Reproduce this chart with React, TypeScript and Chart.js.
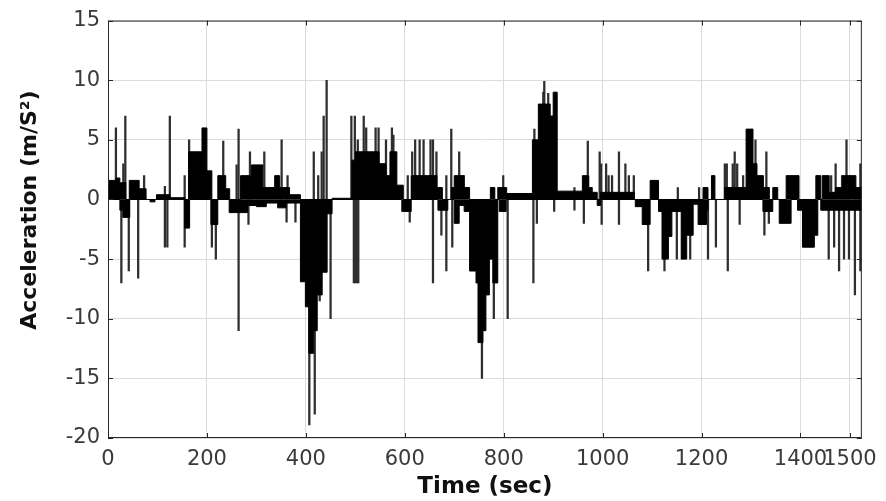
import { useEffect, useRef } from "react";
import { Chart, registerables } from "chart.js";

Chart.register(...registerables);

// Axis ticks
const xTickValues = [0, 200, 400, 600, 800, 1000, 1200, 1400, 1500];
const yTickValues = [-20, -15, -10, -5, 0, 5, 10, 15];
const xMin = 0;
const xMax = 1524;
const yMin = -20;
const yMax = 15;

// Dense positive part of the signal: [time (s), level (m/s^2)], level held until next time
const positiveEnvelope: [number, number][] = [
  [0, 0], [2, 1.6], [16, 1.8], [24, 1.4], [36, 0], [43, 1.6], [63, 0.9], [77, 0],
  [98, 0.4], [125, 0.15], [155, 0], [163, 4.0], [190, 6.0], [200, 2.4], [210, 0],
  [222, 2.0], [238, 0.9], [246, 0], [268, 2.0], [290, 2.9], [313, 1.0], [337, 2.0],
  [347, 1.0], [367, 0.4], [389, 0], [453, 0.1], [493, 3.3], [500, 4.0], [548, 3.0],
  [562, 2.0], [570, 4.0], [584, 1.2], [597, 0], [613, 2.0], [665, 1.0], [676, 0],
  [694, 1.0], [700, 2.0], [720, 1.0], [731, 0], [773, 1.0], [782, 0], [788, 1.0],
  [806, 0.5], [858, 5.0], [870, 8.0], [894, 7.0], [900, 9.0], [908, 0.7], [959, 2.0],
  [972, 1.0], [979, 0.6], [989, 0], [996, 0.6], [1064, 0], [1096, 1.6], [1113, 0],
  [1203, 1.0], [1213, 0], [1220, 2.0], [1227, 0], [1247, 1.0], [1290, 5.9], [1304, 3.0],
  [1312, 2.0], [1325, 1.0], [1337, 0], [1344, 1.0], [1354, 0], [1371, 2.0], [1397, 0],
  [1431, 2.0], [1441, 0], [1444, 2.0], [1458, 0.6], [1471, 1.0], [1485, 2.0], [1512, 1.0],
  [1524, 1.0],
];

// Dense negative part of the signal
const negativeEnvelope: [number, number][] = [
  [0, 0], [24, -0.9], [30, -1.5], [44, 0], [85, -0.2], [95, 0], [155, -2.4], [165, 0],
  [208, -2.1], [222, 0], [245, -1.1], [282, -0.5], [300, -0.6], [320, -0.3], [343, -0.7],
  [360, -0.3], [389, -6.9], [399, -9.0], [406, -12.9], [416, -11.0], [423, -8.0],
  [433, -6.1], [443, -1.2], [453, 0], [594, -1.0], [613, 0], [667, -0.9], [687, 0],
  [700, -2.0], [710, -0.5], [720, -1.0], [731, -6.0], [744, -7.0], [748, -12.0],
  [758, -11.0], [764, -8.0], [771, -5.0], [778, -7.0], [788, 0], [791, -1.0], [805, 0],
  [989, -0.5], [996, 0], [1066, -0.6], [1080, -2.1], [1096, 0], [1113, -1.0], [1120, -5.0],
  [1133, -3.1], [1140, -1.0], [1160, -5.0], [1170, -3.0], [1183, -0.4], [1193, -2.1],
  [1210, -0.9], [1213, 0], [1324, -1.0], [1344, 0], [1357, -2.0], [1381, 0], [1394, -0.9],
  [1404, -4.0], [1428, -3.0], [1435, 0], [1441, -0.9], [1524, -0.9],
];

// Isolated acceleration spikes: [time (s), peak (m/s^2)]
const spikes: [number, number][] = [
  [16, 6.0], [27, -7.0], [31, 3.0], [35, 7.0], [42, -6.0], [61, -6.6], [73, 2.0],
  [115, 1.1], [115, -4.0], [120, -4.0], [125, 7.0], [155, 2.0], [155, -4.0], [164, 5.0],
  [210, -4.0], [218, -5.0], [233, 4.9], [260, 2.9], [264, 5.9], [264, -11.0], [284, -2.1],
  [287, 4.0], [316, 4.0], [351, 5.0], [361, -1.9], [363, 2.0], [379, -1.9], [393, -4.5],
  [407, -18.9], [416, 4.0], [418, -18.0], [425, 2.0], [428, -8.5], [432, 4.0], [436, 7.0],
  [442, 10.0], [450, -10.0], [492, 7.0], [497, -7.0], [499, 7.0], [500, -7.0], [503, -7.0],
  [505, 5.0], [506, -7.0], [517, 7.0], [522, 6.0], [541, 6.0], [547, 6.0], [562, 5.0],
  [574, 6.0], [577, 5.4], [606, 2.0], [610, -1.9], [615, 4.0], [621, 5.0], [630, 5.0],
  [638, 5.0], [652, 5.0], [657, 5.0], [657, -7.0], [664, 4.0], [674, -3.0], [684, 2.0],
  [684, -6.0], [694, 5.9], [696, -4.0], [710, 4.0], [719, 2.0], [756, -15.0], [777, 1.0],
  [780, -10.0], [799, 2.0], [808, -10.0], [860, -7.0], [862, 5.9], [867, -2.0], [880, 9.0],
  [882, 9.9], [890, 8.9], [902, -1.0], [906, 8.9], [943, 1.0], [943, -0.9], [962, -2.0],
  [970, 4.9], [994, 4.0], [997, 3.0], [998, -2.1], [1007, 3.0], [1012, 2.0], [1019, 2.0],
  [1033, 4.0], [1033, -2.1], [1046, 3.0], [1053, 2.0], [1063, 2.0], [1092, -6.0],
  [1125, -6.0], [1150, -5.0], [1152, 1.0], [1160, -5.0], [1177, -5.0], [1195, 1.0],
  [1205, 1.0], [1213, -5.0], [1229, -4.0], [1247, 3.0], [1251, 3.0], [1253, -6.0],
  [1263, 3.0], [1267, 4.0], [1272, 3.0], [1277, -2.1], [1284, 2.0], [1309, 5.0],
  [1327, -3.0], [1331, 4.0], [1336, -2.0], [1436, 1.0], [1457, -5.0], [1462, 2.0],
  [1468, -4.0], [1471, 3.0], [1478, -6.0], [1484, 2.0], [1488, -5.0], [1493, 5.0],
  [1498, -5.0], [1510, -8.0], [1521, 3.0], [1521, -6.0],
];

const xTitle = "Time (sec)";
const yTitle = "     Acceleration (m/S²)";

const framePlugin = {
  id: "matlabFrame",
  afterDraw(chart: any) {
    const { ctx, chartArea, scales } = chart;
    const { left, right, top, bottom } = chartArea;
    ctx.save();
    ctx.strokeStyle = "#262626";
    ctx.lineWidth = 1;
    ctx.strokeRect(left + 0.5, top + 0.5, right - left - 1, bottom - top - 1);
    const tl = 5;
    ctx.beginPath();
    scales.x.ticks.forEach((t: any) => {
      const x = Math.round(scales.x.getPixelForValue(t.value)) + 0.5;
      ctx.moveTo(x, bottom);
      ctx.lineTo(x, bottom - tl);
      ctx.moveTo(x, top);
      ctx.lineTo(x, top + tl);
    });
    scales.y.ticks.forEach((t: any) => {
      const y = Math.round(scales.y.getPixelForValue(t.value)) + 0.5;
      ctx.moveTo(left, y);
      ctx.lineTo(left + tl, y);
      ctx.moveTo(right, y);
      ctx.lineTo(right - tl, y);
    });
    ctx.stroke();
    ctx.restore();
  },
};

export default function App() {
  const canvasRef = useRef<HTMLCanvasElement | null>(null);

  useEffect(() => {
    const canvas = canvasRef.current;
    if (!canvas) return;
    const tickFont = { family: "DejaVu Sans", size: 21 };
    const chart = new Chart(canvas, {
      type: "bar",
      data: {
        datasets: [
          {
            type: "line",
            label: "Positive",
            data: positiveEnvelope.map(([x, y]) => ({ x, y })),
            stepped: true,
            fill: "origin",
            borderColor: "#000",
            backgroundColor: "#000",
            borderWidth: 1,
            pointRadius: 0,
          } as any,
          {
            type: "line",
            label: "Negative",
            data: negativeEnvelope.map(([x, y]) => ({ x, y })),
            stepped: true,
            fill: "origin",
            borderColor: "#000",
            backgroundColor: "#000",
            borderWidth: 1,
            pointRadius: 0,
          } as any,
          {
            type: "bar",
            label: "Spikes",
            data: spikes.map(([x, y]) => ({ x, y })),
            backgroundColor: "#2e2e2e",
            barThickness: 1.6,
            grouped: false,
          } as any,
        ],
      },
      options: {
        responsive: false,
        animation: false,
        devicePixelRatio: 1,
        layout: { padding: { top: 14, right: 20, left: 0, bottom: 0 } },
        plugins: { legend: { display: false }, tooltip: { enabled: false } },
        scales: {
          x: {
            type: "linear",
            min: xMin,
            max: xMax,
            offset: false,
            afterBuildTicks: (s: any) => {
              s.ticks = xTickValues.map((v) => ({ value: v }));
            },
            afterFit: (s: any) => {
              s.height = 63;
            },
            grid: { color: "#dcdcdc", drawTicks: false, offset: false },
            border: { display: false },
            ticks: {
              autoSkip: false,
              maxRotation: 0,
              minRotation: 0,
              padding: 9,
              color: "#3a3a3a",
              font: tickFont,
              callback: (v: any) => String(v),
            },
            title: {
              display: true,
              text: xTitle,
              color: "#111",
              font: { family: "DejaVu Sans", size: 23, weight: "bold" },
              padding: { top: 0, bottom: 0 },
            },
          },
          y: {
            type: "linear",
            min: yMin,
            max: yMax,
            afterBuildTicks: (s: any) => {
              s.ticks = yTickValues.map((v) => ({ value: v }));
            },
            afterFit: (s: any) => {
              s.width = 108;
            },
            grid: { color: "#dcdcdc", drawTicks: false },
            border: { display: false },
            ticks: {
              padding: 8,
              color: "#3a3a3a",
              font: tickFont,
              callback: (v: any) => String(v),
            },
            title: {
              display: true,
              text: yTitle,
              color: "#111",
              font: { family: "DejaVu Sans", size: 22, weight: "bold" },
              padding: { top: 17, bottom: 0 },
            },
          },
        },
      } as any,
      plugins: [framePlugin],
    });
    return () => chart.destroy();
  }, []);

  return (
    <div
      style={{
        position: "fixed",
        left: 0,
        top: 0,
        width: 886,
        height: 501,
        background: "#fff",
      }}
    >
      <canvas ref={canvasRef} width={886} height={501} />
    </div>
  );
}
